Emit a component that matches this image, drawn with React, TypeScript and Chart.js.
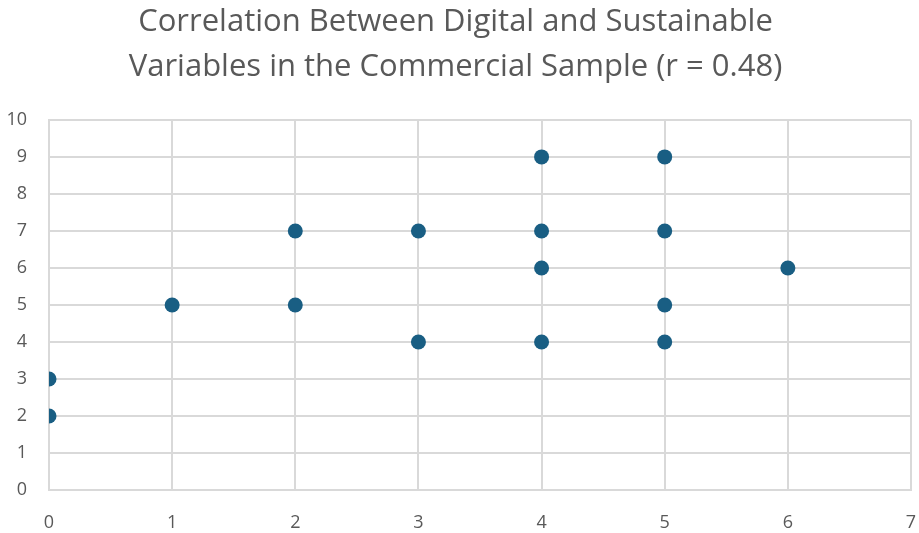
import React, { useEffect, useRef } from "react";
import { Chart, registerables } from "chart.js";

Chart.register(...registerables);

const titleLines = [
  "Correlation Between Digital and Sustainable",
  "Variables in the Commercial Sample (r = 0.48)",
];
const digitalValues = [0, 0, 1, 2, 2, 3, 3, 4, 4, 4, 4, 5, 5, 5, 5, 6];
const sustainableValues = [3, 2, 5, 7, 5, 7, 4, 9, 7, 6, 4, 9, 7, 5, 4, 6];
const xRange = [0, 7];
const yRange = [0, 10];

const textColor = "#595959";
const gridColor = "#d9d9d9";
const pointColor = "#195e83";

export default function App() {
  const canvasRef = useRef<HTMLCanvasElement | null>(null);

  useEffect(() => {
    document.body.style.margin = "0";
    const ctx = canvasRef.current;
    if (!ctx) return;
    const points = digitalValues.map((x, i) => ({ x, y: sustainableValues[i] }));
    const chart = new Chart(ctx, {
      type: "scatter",
      data: {
        datasets: [
          {
            data: points,
            backgroundColor: pointColor,
            borderColor: pointColor,
            pointRadius: 7.5,
            pointHoverRadius: 7.5,
            borderWidth: 0,
          },
        ],
      },
      options: {
        animation: false,
        responsive: false,
        maintainAspectRatio: false,
        layout: { padding: { left: 0, right: 8, top: 0, bottom: 0 } },
        plugins: {
          legend: { display: false },
          tooltip: { enabled: false },
          title: {
            display: true,
            text: titleLines,
            color: textColor,
            font: { family: "Open Sans", size: 31, weight: "normal", lineHeight: 1.45 },
            padding: { top: 0, bottom: 30 },
          },
        },
        scales: {
          x: {
            type: "linear",
            min: xRange[0],
            max: xRange[1],
            ticks: {
              stepSize: 1,
              color: textColor,
              font: { family: "Open Sans", size: 18 },
              padding: 22,
            },
            grid: { color: gridColor, lineWidth: 2, drawTicks: false },
            border: { color: gridColor, width: 2 },
            afterFit: (s: any) => {
              s.height = 43;
              s.paddingLeft = 0;
              s.paddingRight = 0;
            },
          },
          y: {
            type: "linear",
            min: yRange[0],
            max: yRange[1],
            ticks: {
              stepSize: 1,
              color: textColor,
              font: { family: "Open Sans", size: 18 },
              padding: 22,
            },
            grid: { color: gridColor, lineWidth: 2, drawTicks: false },
            border: { color: gridColor, width: 2 },
            afterFit: (s: any) => {
              s.width = 49;
              s.paddingTop = 0;
              s.paddingBottom = 0;
            },
          },
        },
      },
    });
    return () => chart.destroy();
  }, []);

  return (
    <div style={{ position: "absolute", left: 0, top: 0, width: 919, height: 533 }}>
      <canvas ref={canvasRef} width={919} height={533} />
    </div>
  );
}
